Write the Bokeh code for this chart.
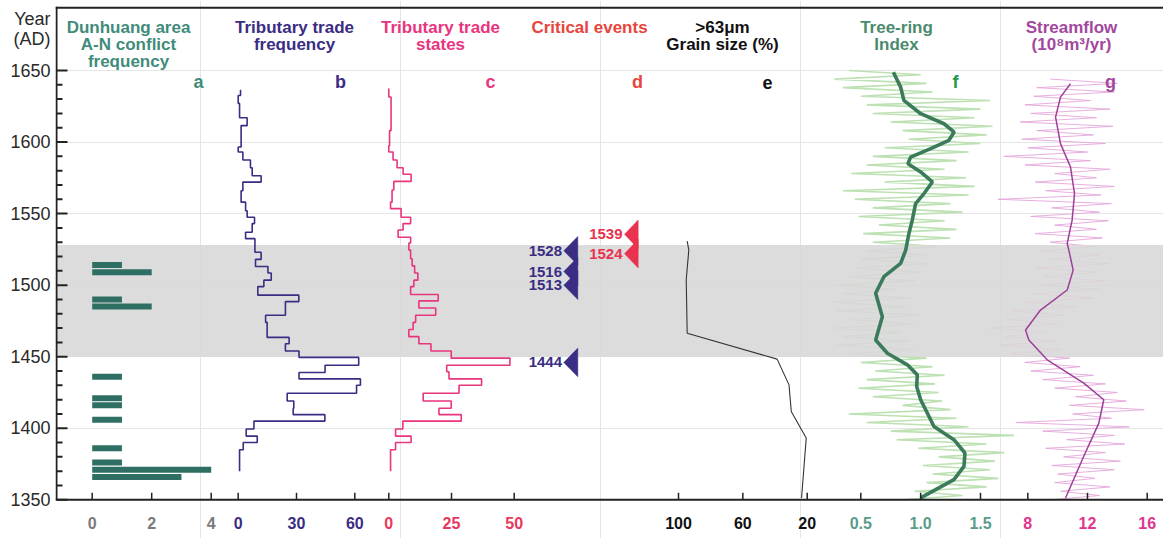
from bokeh.plotting import figure
from bokeh.models import Range1d, LinearAxis, FixedTicker, Label
from bokeh.embed import file_html
from bokeh.resources import INLINE

# ---------------- data ----------------
# (a) Dunhuang area A-N conflict frequency
conflict_years = [1366, 1371, 1376, 1386, 1406, 1416, 1421, 1436, 1485, 1490, 1509, 1514]
conflict_freq = [3, 4, 1, 1, 1, 1, 1, 1, 2, 1, 2, 1]

# (b) Tributary trade frequency (bin edges in years, value per bin)
trade_freq_edges = [1370, 1385, 1390, 1394.5, 1399.5, 1405, 1409.5, 1414, 1419, 1424.5,
                    1430, 1434.5, 1439, 1444, 1449.5, 1454, 1459, 1463.5, 1474, 1479,
                    1488.5, 1493, 1499, 1503.5, 1508.5, 1513, 1518, 1523, 1532.5, 1537,
                    1543, 1547.5, 1552, 1558, 1566, 1572, 1576.5, 1582, 1587.5, 1593,
                    1596.5, 1611.5, 1617, 1627, 1632.5, 1636.5]
trade_freq = [0.7, 2.6, 9.8, 4.1, 8.1, 44.6, 28.3, 28.6, 25.2, 60.9,
              62.9, 31.3, 44.7, 62, 31.3, 24.3, 26.2, 14.9, 14.1, 24.3,
              31.2, 10.1, 13.2, 17, 15.3, 8.9, 11.8, 8.6, 3.8, 7.2,
              8.4, 4.6, 3.8, 1.5, 2.4, 11.8, 7.2, 6.3, 2.4, 0,
              1.5, 4.6, 0.7, 0, 1.2]

# (c) Tributary trade states
trade_states_edges = [1370, 1385, 1390, 1394.5, 1399.5, 1405, 1409.5, 1414, 1419, 1424.5,
                      1430, 1434.5, 1439.5, 1444, 1449, 1454, 1459, 1464, 1469, 1474,
                      1479, 1484, 1489, 1493.5, 1499, 1503.5, 1508.5, 1513.5, 1518.5, 1524.5,
                      1529.5, 1533.5, 1538.5, 1543, 1547.5, 1553.5, 1558, 1566.5, 1572.5, 1577.5,
                      1582, 1587.5, 1593, 1597.5, 1608, 1631.5, 1637.5]
trade_states = [0.7, 2.7, 8.9, 2.7, 5.6, 28.9, 20, 24.9, 13.7, 28,
                37, 24, 23.1, 48.3, 24.9, 16.8, 12, 8, 9.7, 10.7,
                18.7, 12, 19.7, 8.7, 10, 11.6, 10.3, 9.3, 8.7, 8,
                8.7, 3.7, 5.7, 8.7, 4.9, 0.7, 1.3, 2, 8.9, 5.7,
                3.3, 1.7, 0, 0.3, 0.9, 0]

# (d) Critical events: label text and plotted position (year)
events_blue_text = ["1528", "1516", "1513", "1444"]
events_blue_pos = [1524, 1509.5, 1500, 1446]
events_red_text = ["1539", "1524"]
events_red_pos = [1535.5, 1522]

# (e) >63um grain size (%)
grain_years = [1530.8, 1524.5, 1503.6, 1466.4, 1448.3, 1430.3, 1411.7, 1393.2, 1351.3]
grain_size = [94.6, 93.6, 95.2, 94.6, 38.7, 31.3, 29.9, 20.6, 23.5]

# (f) Tree-ring index
tree_years = list(range(1350, 1651, 3))
tree_raw = [0.85, 1.35, 0.95, 1.55, 1.05, 1.65, 1.10, 1.58, 1.02, 1.62,
            1.15, 1.70, 0.98, 1.55, 0.80, 1.78, 0.75, 1.40, 0.55, 1.30,
            0.40, 1.25, 0.85, 1.18, 0.60, 1.15, 0.48, 1.12, 0.55, 1.20,
            0.62, 1.10, 0.50, 1.05, 0.40, 0.95, 0.30, 0.90, 0.35, 0.85,
            0.28, 0.95, 0.40, 1.00, 0.30, 0.88, 0.25, 0.92, 0.35, 0.80,
            0.30, 0.95, 0.38, 1.00, 0.45, 1.08, 0.50, 1.05, 0.55, 1.15,
            0.60, 1.25, 0.52, 1.30, 0.65, 1.20, 0.48, 1.35, 0.60, 1.25,
            0.45, 1.40, 0.35, 1.45, 0.70, 1.38, 0.42, 1.20, 0.55, 1.30,
            0.60, 1.40, 0.70, 1.50, 0.90, 1.55, 0.85, 1.60, 0.75, 1.45,
            0.60, 1.50, 0.55, 1.58, 0.50, 1.10, 0.35, 1.05, 0.28, 1.00,
            0.40]
tree_smooth_years = [1351.3, 1364.1, 1373.4, 1382.7, 1392, 1401.2, 1408.2, 1419.9, 1429.2, 1437.3,
                     1444.3, 1452.4, 1461.7, 1478, 1494.3, 1505.9, 1515.2, 1524.5, 1536.1, 1545.4,
                     1557, 1564, 1572.1, 1579.1, 1584.9, 1589.5, 1595.4, 1601.2, 1607, 1612.8,
                     1619.8, 1629.1, 1638.4, 1648.8]
tree_smooth = [1.0, 1.278, 1.362, 1.37, 1.278, 1.111, 1.07, 1.0, 0.967, 0.972,
               0.889, 0.722, 0.624, 0.68, 0.624, 0.693, 0.833, 0.875, 0.902, 0.93,
               0.958, 1.028, 1.098, 1.0, 0.894, 0.916, 1.084, 1.236, 1.28, 1.195,
               1.0, 0.86, 0.833, 0.772]

# (g) Streamflow (10^8 m3/yr)
flow_years = list(range(1350, 1645, 3))
flow_raw = [9.5, 12.8, 10.2, 13.5, 9.8, 12.5, 10.0, 13.8, 9.6, 14.2,
            10.4, 13.2, 9.2, 14.5, 10.6, 13.8, 9.0, 14.8, 7.2, 13.6,
            11.0, 15.8, 10.8, 14.6, 11.2, 14.0, 9.8, 13.2, 9.0, 12.4,
            8.2, 11.5, 7.8, 10.8, 6.8, 10.2, 6.2, 9.8, 6.5, 9.2,
            5.4, 10.0, 6.6, 10.5, 7.0, 11.2, 7.8, 12.4, 8.4, 12.8,
            8.8, 13.2, 9.0, 12.6, 8.6, 13.4, 9.4, 12.8, 8.8, 12.5,
            9.5, 13.0, 8.5, 12.6, 9.8, 13.4, 8.2, 12.8, 9.6, 13.6,
            6.0, 12.9, 9.2, 13.8, 8.5, 12.6, 9.8, 13.5, 7.8, 12.2,
            6.4, 12.0, 8.0, 13.2, 7.6, 12.4, 8.6, 13.7, 7.5, 12.6,
            8.2, 13.5, 7.8, 12.2, 8.4, 13.8, 8.6, 14.0, 9.5]
flow_smooth_years = [1351.3, 1380.4, 1403.6, 1419.9, 1431.5, 1447.8, 1461.7, 1468.7, 1482.6, 1496.6,
                     1510.5, 1524.5, 1529.1, 1545.4, 1564, 1582.6, 1598.9, 1617.4, 1631.4, 1640.7]
flow_smooth = [10.53, 11.75, 12.76, 13.09, 11.75, 9.3, 8.07, 7.85, 8.85, 10.64,
               11.04, 10.75, 10.64, 10.97, 11.13, 10.86, 10.19, 9.86, 10.19, 10.86]

band_years = [1450, 1528]

year_ticks = [1350, 1400, 1450, 1500, 1550, 1600, 1650]
year_minor_ticks = [1360, 1370, 1380, 1390, 1410, 1420, 1430, 1440, 1460, 1470, 1480, 1490,
                    1510, 1520, 1530, 1540, 1560, 1570, 1580, 1590, 1610, 1620, 1630, 1640]
a_ticks = [0, 2, 4]
b_ticks = [0, 30, 60]
c_ticks = [0, 25, 50]
e_ticks = [100, 60, 20]
f_ticks = [0.5, 1.0, 1.5]
g_ticks = [8, 12, 16]

# ---------------- layout ----------------
W, H = 1163, 538
FL, FR = 55, 1163            # frame left / right in page pixels
P1650, P1350 = 70.0, 499.3   # page y of the 1650 and 1350 ticks
PXY = (P1350 - P1650) / 300.0
Y1 = 1650 + P1650 / PXY
Y0 = 1350 - (H - P1350) / PXY
FONT = "Liberation Sans"
BASE_SHIFT = 6.5             # alphabetic baseline correction (px)


def ypage(py):
    return Y1 - py / PXY


def ybase(py):
    return ypage(py - BASE_SHIFT)


# panel scales: (value0, page px0, value1, page px1)
scales = {
    "a": (0, 91.7, 4, 210.7),
    "b": (0, 237.7, 60, 354.3),
    "c": (0, 388.3, 50, 513.7),
    "e": (100, 678, 20, 806.7),
    "f": (0.5, 860.3, 1.5, 980),
    "g": (8, 1027.3, 16, 1146.7),
}


def make_range(v0, p0, v1, p1):
    s = (p1 - p0) / (v1 - v0)
    return Range1d(v0 + (FL - p0) / s, v0 + (FR - p0) / s)


p = figure(width=W, height=H, x_range=Range1d(FL, FR), y_range=Range1d(Y0, Y1),
           output_backend="svg", toolbar_location=None,
           min_border_left=FL, min_border_right=0, min_border_top=0, min_border_bottom=0,
           x_axis_location=None, y_axis_location=None)
p.outline_line_color = None
p.background_fill_color = "white"
p.border_fill_color = "white"
p.extra_x_ranges = {k: make_range(*v) for k, v in scales.items()}

# colors
C_A_T, C_A_BAR, C_A_TICK = "#3f8c7b", "#2f6e63", "#7a7a7a"
C_B = "#3a2d83"
C_C, C_C_TICK = "#e8357e", "#e8375c"
C_D_T, C_D_TRI = "#e8453c", "#e8324e"
C_F_T, C_F_L, C_F_TICK, C_F_S, C_F_R = "#4b8b6d", "#1e9a4c", "#5a9b8b", "#3b7b5c", "#bde1b3"
C_G_T, C_G_TICK, C_G_S, C_G_R = "#a3479d", "#e0358c", "#9c3f98", "#e4a6da"
AX = "#222222"

# raw series (under the band)
p.line(tree_raw, tree_years, x_range_name="f", line_color=C_F_R, line_width=1.6)
p.line(flow_raw, flow_years, x_range_name="g", line_color=C_G_R, line_width=0.9)

# grey band
p.quad(left=FL, right=FR, bottom=band_years[0], top=band_years[1],
       fill_color="#d8d7d8", fill_alpha=0.88, line_color=None)

# (a) bars
p.hbar(y=conflict_years, height=4.2, left=0, right=conflict_freq, x_range_name="a",
       fill_color=C_A_BAR, line_color=None)


def step_xy(edges, vals):
    xs, ys = [], []
    for i, v in enumerate(vals):
        xs += [v, v]
        ys += [edges[i], edges[i + 1]]
    return xs, ys


bx, by = step_xy(trade_freq_edges, trade_freq)
p.line(bx, by, x_range_name="b", line_color=C_B, line_width=1.6)
cx, cy = step_xy(trade_states_edges, trade_states)
p.line(cx, cy, x_range_name="c", line_color=C_C, line_width=1.6)

# (d) event triangles
HALF = 10.0


def tri(pos, tip, base):
    return ([[tip, base, base] for _ in pos], [[y, y + HALF, y - HALF] for y in pos])


txs, tys = tri(events_blue_pos, 563.3, 577.3)
p.patches(txs, tys, fill_color=C_B, line_color=C_B, line_width=0.5)
txs, tys = tri(events_red_pos, 624, 637.7)
p.patches(txs, tys, fill_color=C_D_TRI, line_color=C_D_TRI, line_width=0.5)
for t, y in zip(events_blue_text, events_blue_pos):
    p.add_layout(Label(x=561.5, y=y, text=t, text_align="right", text_baseline="middle",
                       text_font=FONT, text_font_style="bold", text_font_size="15px",
                       text_color=C_B))
for t, y in zip(events_red_text, events_red_pos):
    p.add_layout(Label(x=622, y=y, text=t, text_align="right", text_baseline="middle",
                       text_font=FONT, text_font_style="bold", text_font_size="15px",
                       text_color=C_D_TRI))

# (e) grain size
p.line(grain_size, grain_years, x_range_name="e", line_color="#333333", line_width=1.1)

# (f), (g) smoothed series
p.line(tree_smooth, tree_smooth_years, x_range_name="f", line_color=C_F_S, line_width=3.6)
p.line(flow_smooth, flow_smooth_years, x_range_name="g", line_color=C_G_S, line_width=1.5)

# ---------------- axes ----------------
# year axis: labels from the library axis (plus the "Year (AD)" heading as two extra labels)
YEAR_LBL, AD_LBL = 1686, 1672
overrides = {YEAR_LBL: "Year", AD_LBL: "(AD)"}
yax = LinearAxis(ticker=FixedTicker(ticks=year_ticks + [AD_LBL, YEAR_LBL], minor_ticks=[]),
                 axis_line_color=None, major_tick_in=0, major_tick_out=0,
                 minor_tick_in=0, minor_tick_out=0,
                 major_label_overrides=overrides,
                 major_label_standoff=5, major_label_text_font=FONT,
                 major_label_text_font_size="18px", major_label_text_color="#2a2a2a")
p.add_layout(yax, "left")

# axis lines and tick marks inside the frame
X_AX = FL + 1
p.segment(x0=[X_AX], y0=[1350], x1=[X_AX], y1=[ypage(6.3)], line_color=AX, line_width=2)
p.segment(x0=[FL], y0=[ypage(7.3)], x1=[FR], y1=[ypage(7.3)], line_color=AX, line_width=2)
p.segment(x0=[FL], y0=[1350], x1=[FR], y1=[1350], line_color=AX, line_width=2)
p.segment(x0=[X_AX] * len(year_ticks), y0=year_ticks, x1=[X_AX + 11] * len(year_ticks),
          y1=year_ticks, line_color=AX, line_width=2)
p.segment(x0=[X_AX] * len(year_minor_ticks), y0=year_minor_ticks,
          x1=[X_AX + 6] * len(year_minor_ticks), y1=year_minor_ticks,
          line_color=AX, line_width=2)

tick_sets = [("a", a_ticks, C_A_TICK), ("b", b_ticks, C_B), ("c", c_ticks, C_C_TICK),
             ("e", e_ticks, "#111111"), ("f", f_ticks, C_F_TICK), ("g", g_ticks, C_G_TICK)]
TICK_LEN = 7 / PXY
for n, ts, col in tick_sets:
    p.segment(x0=ts, y0=[1350] * len(ts), x1=ts, y1=[1350 + TICK_LEN] * len(ts),
              x_range_name=n, line_color=AX, line_width=1.5)
    for v in ts:
        txt = f"{v:.1f}" if n == "f" else f"{v}"
        p.add_layout(Label(x=v, y=ybase(528.5), x_range_name=n, text=txt,
                           text_align="center", text_baseline="alphabetic",
                           text_font=FONT, text_font_style="bold", text_font_size="16px",
                           text_color=col))

# ---------------- texts ----------------
titles = [
    (["Dunhuang area", "A-N conflict", "frequency"], 128, C_A_T),
    (["Tributary trade", "frequency"], 294, C_B),
    (["Tributary trade", "states"], 440, C_C),
    (["Critical events"], 589, C_D_T),
    ([">63\u03bcm", "Grain size (%)"], 722, "#111111"),
    (["Tree-ring", "Index"], 896, C_F_T),
    (["Streamflow", "(10\u2078m\u00b3/yr)"], 1071, C_G_T),
]
baselines = [33, 50.5, 67.5]
for lines, cxp, col in titles:
    for i, t in enumerate(lines):
        p.add_layout(Label(x=cxp, y=ybase(baselines[i]), text=t, text_align="center",
                           text_baseline="alphabetic", text_font=FONT,
                           text_font_style="bold", text_font_size="17px", text_color=col))

letters = [("a", 198, C_A_T), ("b", 340, C_B), ("c", 490, C_C), ("d", 637, C_D_T),
           ("e", 767, "#111111"), ("f", 955, C_F_L), ("g", 1110, C_G_T)]
for t, xp, col in letters:
    p.add_layout(Label(x=xp, y=ybase(88), text=t, text_align="center",
                       text_baseline="alphabetic", text_font=FONT, text_font_style="bold",
                       text_font_size="18px", text_color=col))

open("out.html", "w").write(file_html(p, INLINE))
